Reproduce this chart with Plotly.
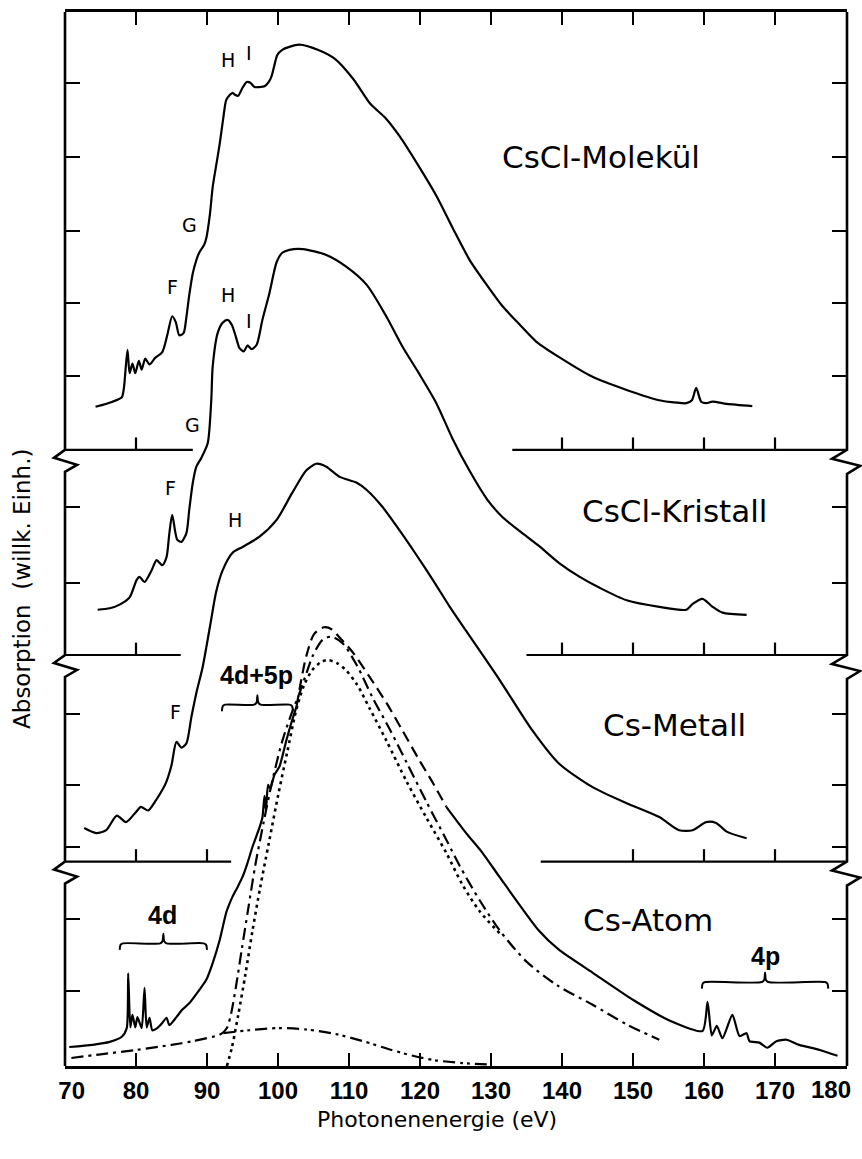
import plotly.graph_objects as go

# ---- drawing area calibration ------------------------------------------------
E_MIN, E_MAX = 70.0, 180.14      # photon energy shown on the x axis (eV)
U_MAX = 14.438                    # stacked absorption scale (arb. units)
PLOT_W, PLOT_H = 782, 1054
MARGIN = dict(l=65, r=15, t=12, b=93)

# baselines of the four stacked spectra (arb. units)
BASE_MOL, BASE_KRI, BASE_MET, BASE_ATOM = 8.44, 5.63, 2.80, 0.0

# ---- CsCl molecule ------------------------------------------------------------
mol_ev = [74.3, 76.7, 78.0, 78.3, 78.8, 79.1, 79.5, 79.9, 80.4, 80.8, 81.3, 81.9,
          82.7, 83.7, 84.4, 85.1, 85.6, 86.1, 86.7, 87.1, 87.5, 88.0, 88.5, 88.9,
          89.6, 89.9, 90.4, 90.8, 91.3, 91.8, 92.3, 92.7, 93.2, 93.6, 94.0, 94.4,
          95.0, 95.6, 96.1, 96.7, 97.4, 98.1, 98.7, 99.1, 99.5, 99.9, 100.6, 101.6,
          103.0, 105.6, 108.1, 110.6, 113.0, 115.1, 117.1, 119.6, 122.3, 124.6,
          127.0, 129.4, 131.6, 134.0, 136.4, 139.6, 144.3, 149.1, 153.7, 157.5,
          158.3, 158.9, 159.6, 160.3, 161.2, 163.2, 166.8]
mol_abs = [0.59, 0.66, 0.72, 0.85, 1.37, 1.05, 1.18, 1.05, 1.22, 1.10, 1.25, 1.17,
           1.26, 1.34, 1.57, 1.83, 1.75, 1.57, 1.60, 1.82, 2.12, 2.42, 2.60, 2.70,
           2.81, 2.90, 3.22, 3.60, 3.90, 4.20, 4.55, 4.79, 4.86, 4.89, 4.86, 4.85,
           4.96, 5.04, 5.03, 4.97, 4.97, 4.98, 5.04, 5.12, 5.27, 5.41, 5.48, 5.52,
           5.55, 5.48, 5.35, 5.08, 4.74, 4.55, 4.30, 3.92, 3.48, 3.04,
           2.60, 2.26, 1.97, 1.72, 1.48, 1.27, 1.00, 0.82, 0.68, 0.64,
           0.68, 0.85, 0.66, 0.64, 0.66, 0.63, 0.60]

# ---- CsCl crystal -------------------------------------------------------------
kri_ev = [74.6, 76.3, 77.7, 79.1, 80.1, 80.5, 81.2, 82.2, 82.9, 83.7, 84.3, 84.7,
          85.1, 85.8, 86.4, 87.1, 87.5, 88.0, 88.5, 89.2, 90.1, 90.6, 90.8, 91.5,
          92.2, 92.9, 93.5, 94.0, 94.6, 95.2, 95.7, 96.3, 97.0, 97.8, 98.8, 99.8,
          100.6, 101.6, 103.5, 106.8, 109.6, 112.5, 115.3, 117.5, 119.9, 122.3,
          124.6, 127.0, 129.4, 131.6, 134.0, 136.8, 139.6, 142.5, 145.3, 149.1,
          153.7, 157.5, 158.4, 159.8, 161.2, 162.6, 166.0]
kri_abs = [0.62, 0.64, 0.69, 0.79, 1.03, 1.07, 1.00, 1.16, 1.30, 1.23, 1.34, 1.67,
           1.92, 1.58, 1.55, 1.67, 1.99, 2.36, 2.58, 2.70, 2.90, 3.49, 3.95, 4.41,
           4.55, 4.59, 4.52, 4.38, 4.20, 4.16, 4.24, 4.19, 4.25, 4.59, 4.96, 5.38,
           5.51, 5.55, 5.56, 5.48, 5.32, 5.07, 4.63, 4.23, 3.85, 3.45,
           2.96, 2.52, 2.14, 1.89, 1.70, 1.49, 1.26, 1.07, 0.92, 0.75,
           0.66, 0.62, 0.70, 0.77, 0.66, 0.58, 0.55]

# ---- Cs metal -----------------------------------------------------------------
met_ev = [72.7, 74.4, 75.8, 77.3, 78.6, 80.0, 80.7, 81.7, 82.8, 83.7, 84.3, 85.0,
          85.7, 86.4, 87.1, 87.8, 88.5, 89.4, 90.4, 91.3, 92.2, 93.6, 95.0, 97.4,
          99.8, 102.0, 104.0, 105.4, 106.8, 108.7, 111.1, 112.5, 114.7, 117.1,
          119.5, 121.8, 124.2, 126.5, 131.2, 135.8, 139.6, 144.3, 149.1, 153.7,
          156.5, 158.4, 160.3, 161.7, 163.2, 166.0]
met_abs = [0.46, 0.39, 0.43, 0.63, 0.54, 0.68, 0.75, 0.70, 0.84, 0.98, 1.10, 1.32,
           1.64, 1.56, 1.62, 1.98, 2.31, 2.67, 3.21, 3.70, 3.99, 4.23, 4.31, 4.45,
           4.68, 5.05, 5.36, 5.45, 5.41, 5.27, 5.19, 5.09, 4.86, 4.54,
           4.20, 3.86, 3.49, 3.16, 2.49, 1.80, 1.34, 1.02, 0.80, 0.61,
           0.43, 0.43, 0.54, 0.53, 0.41, 0.32]

# ---- Cs atom (vapour); the peak region between GAP_EV is interpolated ----------
atom_ev = [70.6, 73.9, 76.3, 78.0, 78.7, 78.9, 79.2, 79.5, 79.9, 80.2, 80.8, 81.2,
           81.5, 81.9, 82.3, 83.0, 83.7, 84.3, 84.7, 85.7, 86.5, 87.5, 88.9, 89.9,
           90.8, 91.8, 92.7, 93.2, 93.6, 94.3, 95.0, 95.7, 96.4, 97.4, 97.8, 98.1,
           98.3, 98.6, 98.9, 99.5, 100.2, 101.2, 102.0, 102.6,
           103.3, 104.0, 105.1, 106.5, 107.6, 108.4, 110.5, 112.9, 115.3, 117.5,
           119.9, 121.8, 123.7, 126.5, 128.8, 131.2, 136.7, 139.6, 144.3, 150.1,
           155.2, 159.8, 160.5, 161.1, 161.8, 162.6, 164.0, 165.0, 166.0, 166.4,
           167.8, 168.9, 170.2, 171.6, 173.4, 176.3, 178.8]
atom_abs = [0.26, 0.29, 0.33, 0.40, 0.52, 1.27, 0.53, 0.70, 0.53, 0.67, 0.52, 1.07,
            0.53, 0.66, 0.49, 0.52, 0.59, 0.66, 0.56, 0.67, 0.77, 0.86, 1.04, 1.18,
            1.41, 1.73, 2.10, 2.23, 2.32, 2.45, 2.59, 2.78, 3.00, 3.27, 3.40, 3.70,
            3.50, 3.85, 3.80, 3.99, 4.10, 4.47, 4.74, 4.92,
            5.30, 5.62, 5.92, 6.01, 5.98, 5.90, 5.67, 5.33, 4.97, 4.60,
            4.19, 3.88, 3.55, 3.19, 2.92, 2.59, 1.86, 1.59, 1.28, 0.90,
            0.62, 0.48, 0.88, 0.42, 0.55, 0.38, 0.70, 0.41, 0.45, 0.34,
            0.32, 0.25, 0.34, 0.36, 0.29, 0.22, 0.14]
GAP_EV = (102.6, 123.7)

# ---- calculated cross sections for the atom -------------------------------------
# 4d + 5p total (dash-dot)
calc_ev = [70.9, 75.0, 80.0, 85.0, 88.0, 92.0, 92.8, 93.4, 94.1, 94.9, 95.8, 96.8,
           98.0, 99.3, 100.6, 101.8, 103.0, 104.0, 104.9, 106.3, 107.5, 109.1,
           111.1, 113.3, 115.7, 118.1, 120.9, 123.7, 125.6, 128.4, 131.2, 135.0,
           139.4, 144.3, 149.1, 153.7]
calc_abs = [0.11, 0.16, 0.22, 0.29, 0.34, 0.44, 0.52, 0.72, 1.10, 1.60, 2.15, 2.75,
            3.35, 3.95, 4.45, 4.80, 5.10, 5.38, 5.62, 5.84, 5.88, 5.79,
            5.49, 5.05, 4.62, 4.16, 3.62, 3.10, 2.74, 2.27, 1.86, 1.43,
            1.10, 0.84, 0.57, 0.36]
# 4d alone (dotted)
calc4d_ev = [92.8, 93.5, 94.4, 95.4, 96.4, 97.5, 98.7, 100.0, 101.3, 102.5, 103.6,
             104.8, 106.0, 107.0, 108.3, 109.5, 111.1, 112.9, 115.3, 118.1, 120.9,
             123.7, 126.0, 128.4, 131.2]
calc4d_abs = [0.0, 0.25, 0.70, 1.25, 1.85, 2.45, 3.05, 3.70, 4.30, 4.85, 5.20,
              5.42, 5.53, 5.56, 5.52, 5.43, 5.23, 4.90, 4.45, 3.90, 3.40,
              2.92, 2.48, 2.12, 1.82]
# 5p alone (dash-dot-dot)
calc5p_ev = [92.3, 96.0, 100.0, 104.0, 108.0, 112.0, 116.0, 119.0, 122.0, 126.0, 130.0]
calc5p_abs = [0.45, 0.49, 0.52, 0.50, 0.44, 0.34, 0.22, 0.14, 0.08, 0.04, 0.02]

# ---- axis furniture -------------------------------------------------------------
X_TICKS = list(range(70, 181, 10))
NBSP = "\u00a0"
# the first label is nudged inward; the last one is set flush with the frame below
X_LABELS = [str(v) for v in X_TICKS]
X_LABELS[0] = NBSP * 2 + X_LABELS[0]
LAST_LABEL = X_LABELS[-1]
X_LABELS[-1] = ""
Y_TICKS = [13.47, 12.45, 11.44, 10.45, 9.45, 7.66, 6.62, 4.82, 3.85, 3.00, 2.01, 1.03]
PANEL_BREAKS = [BASE_MOL, BASE_KRI, BASE_MET]
# horizontal stubs closing each upper panel: (baseline, start, end, tick energies)
PANEL_STUBS = [
    (BASE_MOL, E_MIN, 88.0, [80]),
    (BASE_MOL, 133.0, E_MAX, [140, 150, 160, 170]),
    (BASE_KRI, E_MIN, 86.3, [80]),
    (BASE_KRI, 135.0, E_MAX, [140, 150, 160, 170]),
    (BASE_MET, E_MIN, 93.4, [80, 90]),
    (BASE_MET, 137.0, E_MAX, [150, 160, 170]),
]
STUB_TICK = 0.17

# braces: (start eV, end eV, height)
BRACES = [(77.7, 90.0, 1.68), (92.1, 102.1, 4.95), (159.7, 177.5, 1.15)]

PANEL_NAMES = [("CsCl-Molekül", 145.5, 12.45), ("CsCl-Kristall", 155.8, 7.60),
               ("Cs-Metall", 155.8, 4.67), ("Cs-Atom", 152.1, 2.00)]
SHELL_LABELS = [("4d", 83.7, 2.07), ("4d+5p", 97.0, 5.36), ("4p", 168.7, 1.51)]
FEATURE_LABELS = [("H", 93.0, 13.78), ("I", 95.9, 13.88), ("G", 87.5, 11.52),
                  ("F", 85.1, 10.67), ("H", 93.0, 10.56), ("I", 95.9, 10.21),
                  ("G", 87.9, 8.78), ("F", 84.8, 7.92), ("H", 93.9, 7.48),
                  ("F", 85.6, 4.85)]

INK = "black"
SANS = "DejaVu Sans"
NARROW = "Liberation Sans Narrow, Liberation Sans, sans-serif"
TICK_FONT = dict(family=NARROW, size=24, color=INK, weight="bold")

fig = go.Figure()


def add_line(xs, ys, width=2.2, dash="solid", shape="spline", smoothing=0.8):
    fig.add_trace(go.Scatter(x=xs, y=ys, mode="lines", hoverinfo="skip",
                             line=dict(color=INK, width=width, dash=dash,
                                       shape=shape, smoothing=smoothing)))


def shifted(vals, base):
    return [v + base for v in vals]


# experimental spectra
add_line(mol_ev, shifted(mol_abs, BASE_MOL), smoothing=0.7)
add_line(kri_ev, shifted(kri_abs, BASE_KRI), smoothing=0.7)
add_line(met_ev, shifted(met_abs, BASE_MET), smoothing=0.7)

lo, hi = GAP_EV
seg_a = [(e, a) for e, a in zip(atom_ev, atom_abs) if e <= lo]
seg_b = [(e, a) for e, a in zip(atom_ev, atom_abs) if lo <= e <= hi]
seg_c = [(e, a) for e, a in zip(atom_ev, atom_abs) if e >= hi]
add_line([p[0] for p in seg_a], [p[1] + BASE_ATOM for p in seg_a], smoothing=0.6)
add_line([p[0] for p in seg_b], [p[1] + BASE_ATOM for p in seg_b], dash="11px,6px")
add_line([p[0] for p in seg_c], [p[1] + BASE_ATOM for p in seg_c], smoothing=0.6)

# calculated curves
add_line(calc_ev, calc_abs, dash="12px,5px,3px,5px")
add_line(calc4d_ev, calc4d_abs, width=2.6, dash="3px,4px")
add_line(calc5p_ev, calc5p_abs, dash="12px,5px,3px,4px,3px,5px")

# panel stubs with their ticks
sx, sy = [], []
for base, e0, e1, ticks in PANEL_STUBS:
    sx += [e0, e1, None]
    sy += [base, base, None]
    for t in ticks:
        sx += [t, t, None]
        sy += [base, base + STUB_TICK, None]
fig.add_trace(go.Scatter(x=sx, y=sy, mode="lines", hoverinfo="skip",
                         line=dict(color=INK, width=2.2)))

# curly braces
for e0, e1, h in BRACES:
    em = 0.5 * (e0 + e1)
    tip, peak = 0.09, 0.13
    bx = [e0, e0 + 0.12, e0 + 0.45, em - 0.45, em - 0.12, em, em + 0.12, em + 0.45,
          e1 - 0.45, e1 - 0.12, e1]
    by = [h - tip, h - 0.02, h, h, h + 0.03, h + peak, h + 0.03, h, h, h - 0.02, h - tip]
    add_line(bx, by, width=2.0, smoothing=0.8)

# vertical frame with break marks (paper coordinates)
def frame_path(x_edge, zig):
    pts = [(x_edge, 1.0)]
    for base in PANEL_BREAKS:
        yb = base / U_MAX
        pts.append((x_edge, yb))
        for dx, dy in zig:
            pts.append((x_edge + dx / PLOT_W, yb - dy / PLOT_H))
    pts.append((x_edge, 0.0))
    return "M " + " L ".join(f"{x:.5f},{y:.5f}" for x, y in pts)


LEFT_ZIG = [(-11, 8), (12, 15), (0, 22)]
RIGHT_ZIG = [(-15, 9), (13, 16), (0, 24)]
for x_edge, zig in ((0.0, LEFT_ZIG), (1.0, RIGHT_ZIG)):
    fig.add_shape(type="path", path=frame_path(x_edge, zig), xref="paper",
                  yref="paper", line=dict(color=INK, width=2.6))

# text
ann = []
for txt, x, y in PANEL_NAMES:
    ann.append(dict(text=txt, x=x, y=y, font=dict(family=SANS, size=31, color=INK)))
for txt, x, y in SHELL_LABELS:
    ann.append(dict(text=txt, x=x, y=y,
                    font=dict(family=NARROW, size=25, color=INK, weight="bold")))
for txt, x, y in FEATURE_LABELS:
    ann.append(dict(text=txt, x=x, y=y, font=dict(family=SANS, size=19, color=INK)))
for a in ann:
    a.update(xref="x", yref="y", showarrow=False, xanchor="center", yanchor="middle")
# last tick label, right-aligned under the frame corner
ann.append(dict(text=LAST_LABEL, xref="x", yref="paper", x=X_TICKS[-1], y=0,
                xanchor="right", yanchor="middle", xshift=7, yshift=-23,
                showarrow=False, font=TICK_FONT))
ann.append(dict(text="Photonenenergie (eV)", xref="paper", yref="paper",
                x=0.476, y=-0.051, showarrow=False, xanchor="center", yanchor="middle",
                font=dict(family=SANS, size=22, color=INK)))
ann.append(dict(text="Absorption  (willk. Einh.)", xref="paper", yref="paper",
                x=-0.055, y=0.4526, textangle=-90, showarrow=False,
                xanchor="center", yanchor="middle",
                font=dict(family=SANS, size=23, color=INK)))

fig.update_layout(
    width=862, height=1159, margin=MARGIN, showlegend=False,
    paper_bgcolor="white", plot_bgcolor="white", annotations=ann,
    xaxis=dict(range=[E_MIN, E_MAX], tickvals=X_TICKS, automargin=False,
               ticktext=X_LABELS, ticks="inside", ticklen=13,
               tickwidth=2.2, tickcolor=INK, showline=True, linewidth=2.6,
               linecolor=INK, mirror="ticks", showgrid=False, zeroline=False,
               ticklabelstandoff=1, tickfont=TICK_FONT),
    yaxis=dict(range=[0, U_MAX], tickvals=Y_TICKS, ticks="inside", ticklen=15,
               tickwidth=2.2, tickcolor=INK, showline=False, mirror="ticks",
               automargin=False, showticklabels=False, showgrid=False,
               zeroline=False),
)

fig.write_html("out.html")
